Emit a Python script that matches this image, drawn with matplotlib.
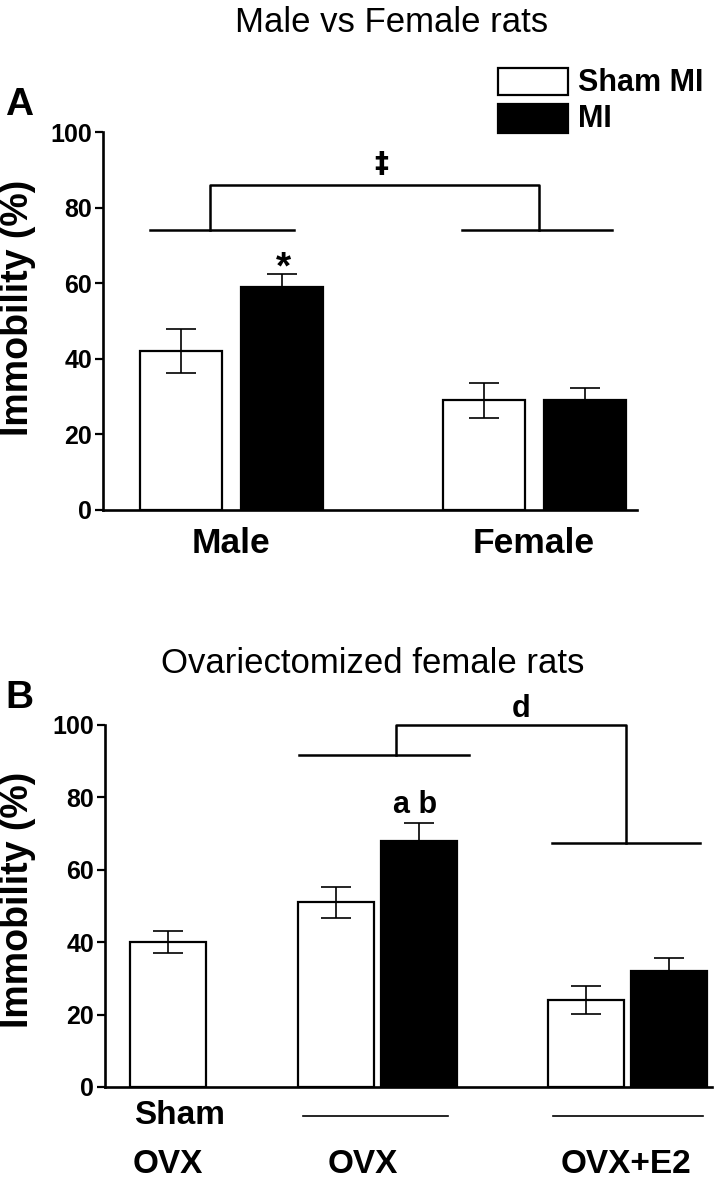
import matplotlib
matplotlib.use("Agg")
import matplotlib.pyplot as plt
from matplotlib.patches import Rectangle

plt.rcParams['font.family'] = ['Liberation Sans', 'DejaVu Sans']

# ---------------- data ----------------
groups_a = ["Male", "Female"]
sham_a = [42, 29]
sham_a_err = [5.8, 4.6]
mi_a = [59, 29]
mi_a_err = [3.4, 3.2]

groups_b = ["OVX", "OVX", "OVX+E2"]
sham_b = [40, 51, 24]
sham_b_err = [3.1, 4.2, 3.9]
mi_b = [68, 32]          # OVX, OVX+E2 (no MI bar for Sham OVX)
mi_b_err = [4.9, 3.6]

yticks = [0, 20, 40, 60, 80, 100]
legend_labels = ["Sham MI", "MI"]

W, H = 720, 1187
fig = plt.figure(figsize=(W / 100, H / 100), dpi=100)


def add_ax(l, r, b, t):
    return fig.add_axes([l / W, 1 - b / H, (r - l) / W, (b - t) / H])


def style(ax, xmax):
    ax.set_xlim(0, xmax)
    ax.set_ylim(0, 100)
    for s in ["top", "right"]:
        ax.spines[s].set_visible(False)
    for s in ["left", "bottom"]:
        ax.spines[s].set_linewidth(1.9)
    ax.set_yticks(yticks)
    ax.set_xticks([])
    ax.tick_params(axis='y', direction='out', length=6, width=1.6,
                   labelsize=18, pad=2)
    for lab in ax.get_yticklabels():
        lab.set_fontweight('bold')


def bars(ax, x, vals, errs, color, width, up_only):
    ax.bar(x, vals, width=width, color=color, edgecolor='black', linewidth=1.6,
           zorder=2)
    lo = [0 if up_only else e for e in errs]
    ax.errorbar(x, vals, yerr=[lo, errs], fmt='none', ecolor='black',
                elinewidth=1.2, capsize=11, capthick=1.2, zorder=3)


lw = 1.8

# ---------------- Panel A ----------------
axA = add_ax(103, 637, 510, 132)
style(axA, 534)
centersA = [128, 431]
off, wA = 50.5, 82
bars(axA, [c - off for c in centersA], sham_a, sham_a_err, 'white', wA, False)
bars(axA, [c + off for c in centersA], mi_a, mi_a_err, 'black', wA, True)
for c, g in zip(centersA, groups_a):
    axA.text(c, -4.5, g, ha='center', va='top', fontsize=25.5,
             fontweight='bold', clip_on=False)

axA.plot([47, 191], [74, 74], color='black', lw=lw, clip_on=False)
axA.plot([359, 509], [74, 74], color='black', lw=lw, clip_on=False)
axA.plot([107, 107, 436, 436], [74, 86, 86, 74], color='black', lw=lw,
         clip_on=False)
axA.text(278, 91.5, "‡", ha='center', va='center', fontsize=20,
         fontweight='bold', family='DejaVu Sans')
axA.text(180, 64, "*", ha='center', va='center', fontsize=28, fontweight='bold')

fig.text(18 / W, 1 - 308 / H, "Immobility (%)", rotation=90, ha='center',
         va='center', fontsize=27, fontweight='bold')
fig.text(392 / W, 1 - 32 / H, "Male vs Female rats", ha='center',
         va='baseline', fontsize=25)
fig.text(5 / W, 1 - 115 / H, "A", ha='left', va='baseline', fontsize=28,
         fontweight='bold')

# legend
fig.patches.append(Rectangle((498 / W, 1 - 95 / H), 70 / W, 27 / H,
                             transform=fig.transFigure, facecolor='white',
                             edgecolor='black', linewidth=1.6))
fig.patches.append(Rectangle((498 / W, 1 - 133 / H), 70 / W, 29 / H,
                             transform=fig.transFigure, facecolor='black',
                             edgecolor='black', linewidth=1.6))
fig.text(578 / W, 1 - 91 / H, legend_labels[0], ha='left', va='baseline',
         fontsize=22, fontweight='bold')
fig.text(578 / W, 1 - 127 / H, legend_labels[1], ha='left', va='baseline',
         fontsize=22, fontweight='bold')

# ---------------- Panel B ----------------
axB = add_ax(105, 712, 1087, 725)
style(axB, 607)
centersB = [63, 272.5, 522.75]
offB, wB = 41.5, 76
xs_sham = [centersB[0]] + [c - offB for c in centersB[1:]]
bars(axB, xs_sham, sham_b, sham_b_err, 'white', wB, False)
xs_mi = [c + offB for c in centersB[1:]]
bars(axB, xs_mi, mi_b, mi_b_err, 'black', wB, True)

axB.plot([194, 364], [91.7, 91.7], color='black', lw=lw, clip_on=False)
axB.plot([291, 291, 521, 521], [91.7, 100, 100, 67.3], color='black', lw=lw,
         clip_on=False)
axB.plot([447, 595], [67.3, 67.3], color='black', lw=lw, clip_on=False)
axB.text(416, 104.3, "d", ha='center', va='center', fontsize=22,
         fontweight='bold', clip_on=False)
axB.text(310, 78, "a b", ha='center', va='center', fontsize=22,
         fontweight='bold')

# category labels for B
axB.text(75, -3.5, "Sham", ha='center', va='top', fontsize=24,
         fontweight='bold', clip_on=False)
for xx, g in zip([63, 258, 521], groups_b):
    axB.text(xx, -17, g, ha='center', va='top', fontsize=24,
             fontweight='bold', clip_on=False)
axB.plot([198, 343], [-8, -8], color='black', lw=1.2, clip_on=False)
axB.plot([448, 598], [-8, -8], color='black', lw=1.2, clip_on=False)

fig.text(18 / W, 1 - 900 / H, "Immobility (%)", rotation=90, ha='center',
         va='center', fontsize=27, fontweight='bold')
fig.text(373 / W, 1 - 673 / H, "Ovariectomized female rats", ha='center',
         va='baseline', fontsize=25)
fig.text(5 / W, 1 - 708 / H, "B", ha='left', va='baseline', fontsize=28,
         fontweight='bold')

fig.savefig("out.png", dpi=100)
